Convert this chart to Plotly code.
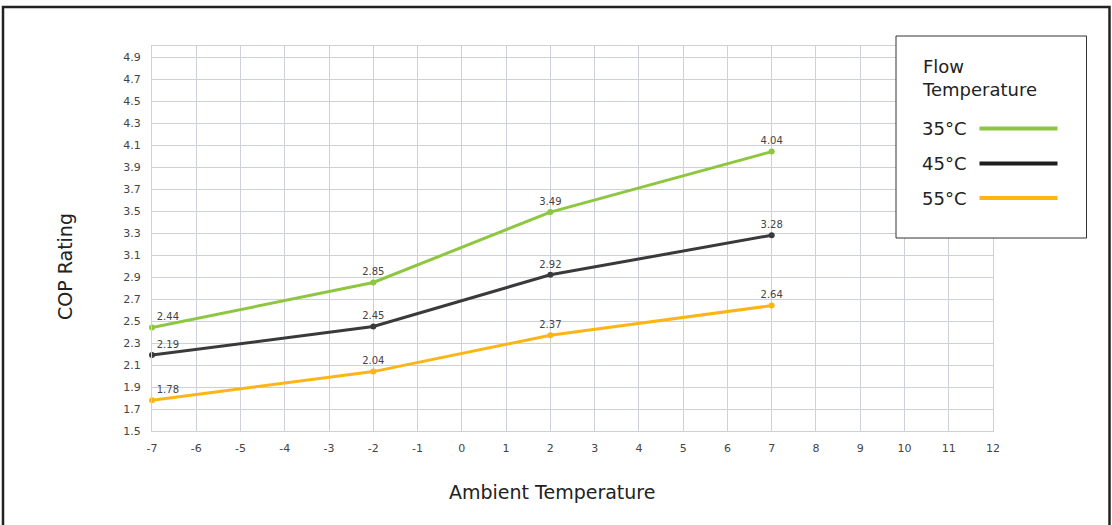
import plotly.graph_objects as go

# ---- data ----
ambient_temps = [-7, -2, 2, 7]
cop_35 = [2.44, 2.85, 3.49, 4.04]
cop_45 = [2.19, 2.45, 2.92, 3.28]
cop_55 = [1.78, 2.04, 2.37, 2.64]
series_names = ["35°C", "45°C", "55°C"]
series_colors = ["#8dc63f", "#3a3a3a", "#fdb515"]
legend_line_colors = ["#8dc63f", "#1e1e1e", "#fdb515"]
x_ticks = list(range(-7, 13))
y_ticks = [round(1.5 + 0.2 * i, 1) for i in range(18)]

FONT = "DejaVu Sans"

fig = go.Figure()
positions = ["top right", "top center", "top center", "top center"]
for name, vals, col in zip(series_names, [cop_35, cop_45, cop_55], series_colors):
    fig.add_trace(go.Scatter(
        x=ambient_temps, y=vals, name=name, mode="lines+markers+text",
        line=dict(color=col, width=3),
        marker=dict(color=col, size=6),
        text=[f"{v:.2f}" for v in vals],
        textposition=positions,
        textfont=dict(family=FONT, size=10, color="#444444"),
        showlegend=False,
        cliponaxis=False,
    ))

grid = "#cdd0dc"
fig.update_xaxes(
    range=[-7, 12], tickvals=x_ticks, ticktext=[str(v) for v in x_ticks],
    showgrid=True, gridcolor=grid, gridwidth=1,
    showline=True, linecolor=grid, linewidth=1, mirror=True,
    zeroline=False, ticks="", ticklabelstandoff=7,
    tickfont=dict(family=FONT, size=11, color="#444444"),
)
fig.update_yaxes(
    range=[1.5, 5.0], tickvals=y_ticks, ticktext=[f"{v:.1f}" for v in y_ticks],
    showgrid=True, gridcolor=grid, gridwidth=1,
    showline=True, linecolor=grid, linewidth=1, mirror=True,
    zeroline=False, ticks="", ticklabelstandoff=8,
    tickfont=dict(family=FONT, size=11, color="#444444"),
)

# geometry helpers (pixel -> paper)
L, R, T, B = 152, 119, 46, 94
W, H = 1112, 525
pw, ph = W - L - R, H - T - B
def px(x):
    return (x - L) / pw
def py(y):
    return (H - B - y) / ph

shapes = []
annotations = []
# outer frame
shapes.append(dict(type="rect", xref="paper", yref="paper",
                   x0=px(3), x1=px(1109.5), y0=py(540), y1=py(7),
                   line=dict(color="#222222", width=2.5), fillcolor="rgba(0,0,0,0)", layer="above"))
# legend box
shapes.append(dict(type="rect", xref="paper", yref="paper",
                   x0=px(896), x1=px(1086.5), y0=py(238), y1=py(36),
                   line=dict(color="#333333", width=1), fillcolor="white", layer="above"))
annotations.append(dict(xref="paper", yref="paper", x=px(920), y=py(78),
                        text="Flow<br>Temperature", showarrow=False, xanchor="left", yanchor="middle",
                        align="left", font=dict(family=FONT, size=18, color="#222222")))
for i, (name, col) in enumerate(zip(series_names, legend_line_colors)):
    yy = [128.5, 163.5, 198][i]
    annotations.append(dict(xref="paper", yref="paper", x=px(920), y=py(yy),
                            text=name, showarrow=False, xanchor="left", yanchor="middle",
                            font=dict(family=FONT, size=18, color="#222222")))
    shapes.append(dict(type="line", xref="paper", yref="paper",
                       x0=px(979.5), x1=px(1057.5), y0=py(yy), y1=py(yy),
                       line=dict(color=col, width=4), layer="above"))
# axis titles
annotations.append(dict(xref="paper", yref="paper", x=px(65), y=py(267),
                        text="COP Rating", showarrow=False, textangle=-90,
                        xanchor="center", yanchor="middle",
                        font=dict(family=FONT, size=19, color="#222222")))
annotations.append(dict(xref="paper", yref="paper", x=px(552), y=py(492),
                        text="Ambient Temperature", showarrow=False,
                        xanchor="center", yanchor="middle",
                        font=dict(family=FONT, size=19, color="#222222")))

fig.update_layout(
    width=W, height=H,
    margin=dict(l=L, r=R, t=T, b=B),
    paper_bgcolor="white", plot_bgcolor="white",
    shapes=shapes, annotations=annotations,
    showlegend=False,
    font=dict(family=FONT),
)

fig.write_html("out.html", config={"displayModeBar": False},
               post_script="document.body.style.margin='0';document.body.style.overflow='hidden';")
